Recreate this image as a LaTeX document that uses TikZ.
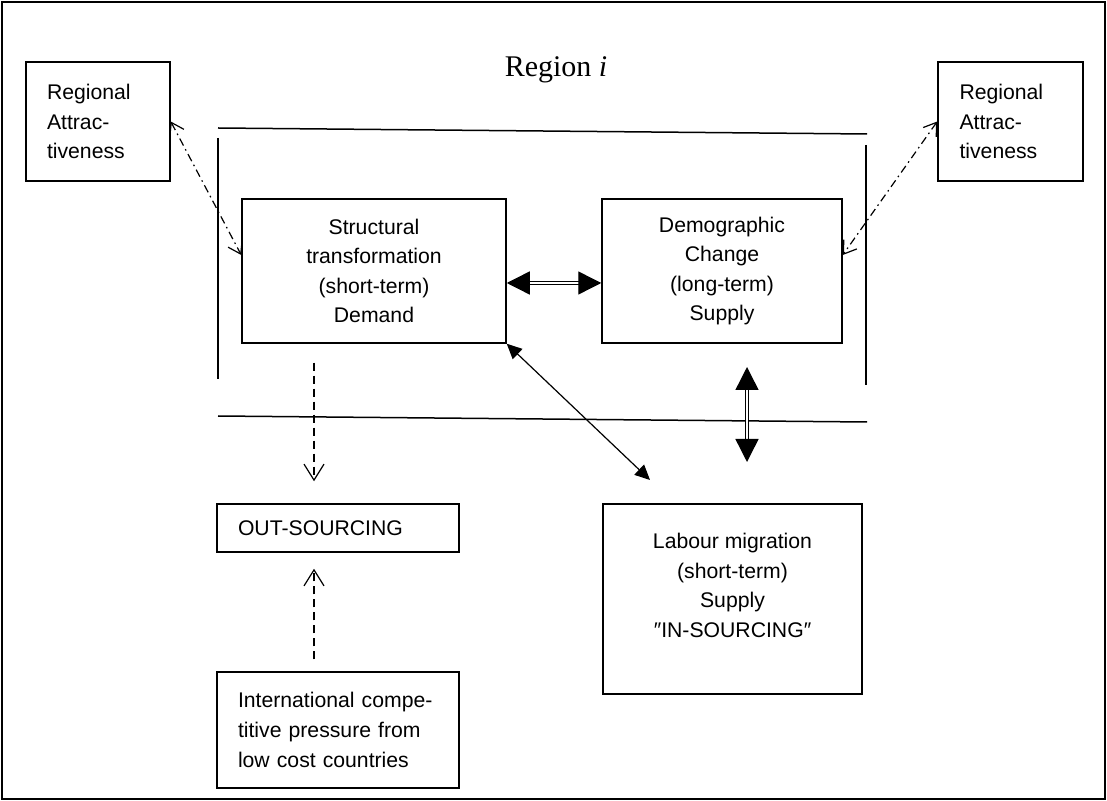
\documentclass[tikz,border=0pt]{standalone}
\usepackage{fontspec}
\setmainfont{Liberation Sans}
\newfontfamily\titlefont{Liberation Serif}
\usetikzlibrary{arrows.meta}

\begin{document}
\begin{tikzpicture}[x=0.5pt, y=-0.5pt,
		box/.style={draw, line width=0.75pt, inner xsep=10.5pt, inner ysep=0pt, align=center,
			font=\fontsize{10.6}{14.8}\selectfont},
		leftbox/.style={box, align=left, text width=#1},
		bigboth/.style={double, line width=0.7pt, double distance=1pt,
			{Triangle[length=11.5pt, width=11.5pt]}-{Triangle[length=11.5pt, width=11.5pt]}},
		thinboth/.style={line width=0.6pt, {Triangle[length=7.5pt, width=7pt]}-{Triangle[length=7.5pt, width=7pt]}},
		dashedarrow/.style={line width=0.6pt, dash pattern=on 4pt off 2.5pt, -{Straight Barb[length=8pt, width=10pt]}},
		dashdotarrow/.style={line width=0.6pt, dash pattern=on 4pt off 2pt on 0.8pt off 2pt,
			{Straight Barb[length=6pt, width=8pt]}-{Straight Barb[length=6pt, width=8pt]}}]
		\useasboundingbox (0,0) rectangle (1107,801);
		
		% Outer frame
		\draw[line width=1pt] (2,2) rectangle (1105,799);
		
		% Region i
		\node (title) at (556,70) {\titlefont\fontsize{15}{18}\selectfont Region \textit{i}};
		\draw[line width=0.75pt] (218,128) -- (867,134);
		\draw[line width=0.75pt] (218,138) -- (218,379);
		\draw[line width=0.75pt] (866,145) -- (866,385);
		\draw[line width=0.75pt] (218,416) -- (867,422);
		
		% Boxes
		\node[leftbox=51pt, minimum width=72pt, minimum height=59.5pt] (regL) at (98,121.5)
			{Regional\\Attrac-\\tiveness};
		\node[leftbox=51pt, minimum width=72.5pt, minimum height=59.5pt] (regR) at (1010.5,121.5)
			{Regional\\Attrac-\\tiveness};
		\node[box, minimum width=132pt, minimum height=72pt] (struct) at (374,271)
			{Structural\\transformation\\(short-term)\\Demand};
		\node[box, minimum width=120pt, minimum height=72pt] (demo) at (722,271)
			{Demographic\\Change\\(long-term)\\Supply};
		\node[box, minimum width=129.5pt, minimum height=95pt] (labour) at (732.5,599)
			{Labour migration\\(short-term)\\Supply\\\char"2033 IN-SOURCING\char"2033\\[-1pt]};
		\node[leftbox=100pt, minimum width=121pt, minimum height=24pt] (out) at (338,528)
			{OUT-SOURCING};
		\node[leftbox=100pt, minimum width=121pt, minimum height=58pt] (intl) at (338,730)
			{International compe-\\titive pressure from\\low cost countries};
		
		% Free ends
		\coordinate (vtop) at (747,367);
		\coordinate (vbot) at (747,462);
		\coordinate (diagend) at (650,480);
		
		% Arrows
		\draw[bigboth] ([yshift=-6pt]struct.east) -- ([yshift=-6pt]demo.west);
		\draw[bigboth] (vtop) -- (vbot);
		\draw[thinboth] (struct.south east) -- (diagend);
		\draw[dashdotarrow] (regL.east) -- ([yshift=8pt]struct.west);
		\draw[dashdotarrow] (regR.west) -- ([yshift=8pt]demo.east);
		\draw[dashedarrow] ([xshift=-30pt, yshift=-9.5pt]struct.south) -- ([xshift=-12pt, yshift=11pt]out.north);
		\draw[dashedarrow] ([xshift=-12pt, yshift=6pt]intl.north) -- ([xshift=-12pt, yshift=-8pt]out.south);
	\end{tikzpicture}
\end{document}
